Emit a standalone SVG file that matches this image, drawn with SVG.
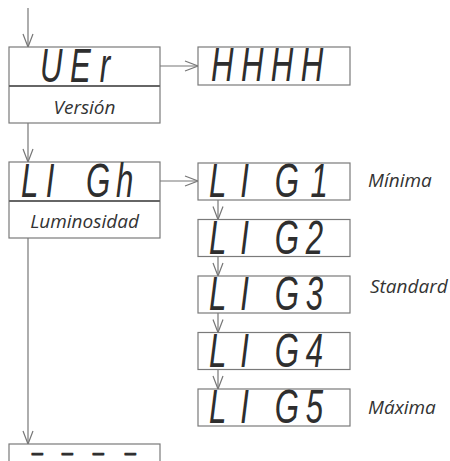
<svg xmlns="http://www.w3.org/2000/svg" width="450" height="461" viewBox="0 0 450 461">
<defs>
<style>
.box{fill:#fff;stroke:#7a7a7a;stroke-width:1.2}
.div{stroke:#666;stroke-width:2}
.ln{stroke:#777;stroke-width:1.2;fill:none}
.seg{font-family:"Liberation Sans",Arial,sans-serif;font-style:italic;font-size:48px;fill:#2e2e2e}
.lbl{font-family:"Open Sans","Liberation Sans",sans-serif;font-style:italic;font-size:19px;fill:#333}
</style>
<marker id="ah" markerUnits="userSpaceOnUse" markerWidth="16" markerHeight="12" viewBox="-14 -6 16 12" refX="0" refY="0" orient="auto">
<path d="M-13,-5 L0,0 L-13,5" fill="none" stroke="#777" stroke-width="1.2"/>
</marker>
</defs>
<rect width="450" height="461" fill="#fff"/>
<g id="connectors">
<line class="ln" x1="28" y1="8" x2="28" y2="47" marker-end="url(#ah)"/>
<line class="ln" x1="28" y1="123" x2="28" y2="162" marker-end="url(#ah)"/>
<line class="ln" x1="28" y1="238" x2="28" y2="444" marker-end="url(#ah)"/>
<line class="ln" x1="160" y1="66" x2="198" y2="66" marker-end="url(#ah)"/>
<line class="ln" x1="160" y1="181" x2="198" y2="181" marker-end="url(#ah)"/>
<line class="ln" x1="218" y1="200" x2="218" y2="219.5" marker-end="url(#ah)"/>
<line class="ln" x1="218" y1="256.5" x2="218" y2="276" marker-end="url(#ah)"/>
<line class="ln" x1="218" y1="313" x2="218" y2="332.5" marker-end="url(#ah)"/>
<line class="ln" x1="218" y1="369.5" x2="218" y2="389" marker-end="url(#ah)"/>
</g>
<g id="ver">
<rect class="box" x="9" y="47" width="151" height="76"/>
<line class="div" x1="9" y1="86" x2="160" y2="86"/>
<text class="seg" transform="translate(40,82) scale(0.65,1)" x="0 46 92">UEr</text>
<text class="lbl" x="84.5" y="114" text-anchor="middle">Versión</text>
</g>
<g id="hhhh">
<rect class="box" x="198" y="47" width="152" height="38"/>
<text class="seg" transform="translate(211,81) scale(0.65,1)" x="0 46 92 138">HHHH</text>
</g>
<g id="ligh">
<rect class="box" x="9" y="162" width="151" height="76"/>
<line class="div" x1="9" y1="201" x2="160" y2="201"/>
<text class="seg" transform="translate(21,197) scale(0.65,1)" x="0 38 100 146">LIGh</text>
<text class="lbl" x="84.5" y="228" text-anchor="middle">Luminosidad</text>
</g>
<g id="lig1">
<rect class="box" x="198" y="163" width="152" height="37"/>
<text class="seg" transform="translate(209,197) scale(0.65,1)" x="0 48 101 156">LIG1</text>
<text class="lbl" x="368" y="187">Mínima</text>
</g>
<g id="lig2">
<rect class="box" x="198" y="219.5" width="152" height="37"/>
<text class="seg" transform="translate(209,253.5) scale(0.65,1)" x="0 48 101 149">LIG2</text>
</g>
<g id="lig3">
<rect class="box" x="198" y="276" width="152" height="37"/>
<text class="seg" transform="translate(209,310) scale(0.65,1)" x="0 48 101 149">LIG3</text>
<text class="lbl" x="370" y="293">Standard</text>
</g>
<g id="lig4">
<rect class="box" x="198" y="332.5" width="152" height="37"/>
<text class="seg" transform="translate(209,366.5) scale(0.65,1)" x="0 48 101 149">LIG4</text>
</g>
<g id="lig5">
<rect class="box" x="198" y="389" width="152" height="37"/>
<text class="seg" transform="translate(209,423) scale(0.65,1)" x="0 48 101 149">LIG5</text>
<text class="lbl" x="368" y="414">Máxima</text>
</g>
<g id="dashes">
<rect class="box" x="9" y="444" width="151" height="40"/>
<text font-family="Liberation Sans,Arial,sans-serif" font-weight="bold" font-size="14" fill="#2e2e2e" stroke="#2e2e2e" stroke-width="1.2" stroke-linejoin="round" transform="translate(0,457.5) scale(2.5,1)" x="12.6 24.6 37 49.8" y="0">----</text>
</g>
</svg>
